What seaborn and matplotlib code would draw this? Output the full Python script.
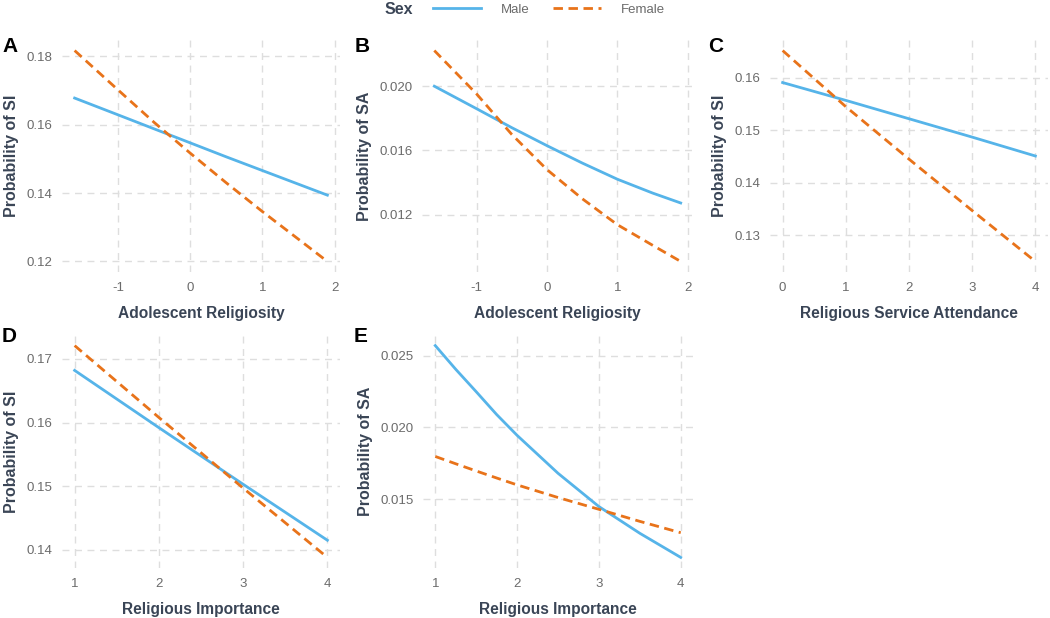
import numpy as np
import pandas as pd
import matplotlib
matplotlib.use("Agg")
import matplotlib.pyplot as plt
from matplotlib.lines import Line2D
import seaborn as sns

# values (predicted probabilities)
rel_x = [-1.6, -1.0, -0.5, 0.0, 0.5, 1.0, 1.5, 1.9]
si_rel_male = [0.1678, 0.1629, 0.1588, 0.1547, 0.1506, 0.1466, 0.1426, 0.1394]
si_rel_female = [0.1817, 0.1702, 0.1607, 0.1517, 0.1430, 0.1346, 0.1265, 0.1200]
sa_rel_male = [0.0200, 0.01860, 0.01742, 0.01630, 0.01522, 0.01421, 0.01335, 0.01273]
sa_rel_female = [0.02222, 0.01952, 0.01700, 0.01481, 0.01300, 0.01138, 0.01010, 0.00909]

att_x = [0, 1, 2, 3, 4]
si_att_male = [0.1591, 0.1557, 0.1522, 0.1487, 0.1451]
si_att_female = [0.1652, 0.1545, 0.1445, 0.1347, 0.1250]

imp_x = [1, 2, 3, 4]
si_imp_male = [0.1682, 0.1592, 0.1503, 0.1415]
si_imp_female = [0.1721, 0.1608, 0.1497, 0.1388]
imp_x_fine = [1.0, 1.25, 1.5, 1.75, 2.0, 2.5, 3.0, 3.5, 4.0]
sa_imp_male = [0.0257, 0.02405, 0.02249, 0.02090, 0.01945, 0.01681, 0.01449, 0.01263, 0.01095]
sa_imp_female = [0.01798, 0.01747, 0.01697, 0.01648, 0.01600, 0.01512, 0.01430, 0.01346, 0.01267]

blue = "#56B4E9"
orange = "#E8731A"
palette = {"Male": blue, "Female": orange}
dashes = {"Male": "", "Female": (3.4, 2.0)}
label_col = "#3a4556"
tick_col = "#6b6b6b"

plt.rcParams['font.family'] = ['Liberation Sans', 'DejaVu Sans']

fig = plt.figure(figsize=(10.5, 6.18), dpi=100)
W, H = 1050, 618


def add_ax(x0, x1, y0, y1):
    return fig.add_axes([x0 / W, (H - y1) / H, (x1 - x0) / W, (y1 - y0) / H])


def panel(ax, x, male, female, xlab, ylab, yticks, yfmt, xticks, letter, lx, ly):
    df = pd.DataFrame({
        "x": list(x) * 2,
        "y": list(male) + list(female),
        "Sex": ["Male"] * len(x) + ["Female"] * len(x),
    })
    sns.lineplot(data=df, x="x", y="y", hue="Sex", style="Sex", palette=palette,
                 dashes=dashes, linewidth=2.0, legend=False, ax=ax)
    ax.set_xticks(xticks)
    ax.set_xticklabels([str(t) for t in xticks])
    ax.set_yticks(yticks)
    ax.set_yticklabels([yfmt.format(t) for t in yticks])
    ax.margins(x=0.05, y=0.05)
    ax.grid(True, color="#dedede", linestyle=(0, (5, 4)), linewidth=1.0)
    ax.set_axisbelow(True)
    for s in ax.spines.values():
        s.set_visible(False)
    ax.tick_params(length=0, colors=tick_col, labelsize=9.5, pad=7)
    ax.set_xlabel(xlab, fontsize=11.2, fontweight="bold", color=label_col, labelpad=9)
    ax.set_ylabel(ylab, fontsize=11.5, fontweight="bold", color=label_col, labelpad=5)
    fig.text(lx / W, 1 - ly / H, letter, fontsize=15, fontweight="bold", color="black",
             ha="left", va="center")


axA = add_ax(62, 340, 40, 272)
panel(axA, rel_x, si_rel_male, si_rel_female, "Adolescent Religiosity", "Probability of SI",
      [0.12, 0.14, 0.16, 0.18], "{:.2f}", [-1, 0, 1, 2], "A", 2, 46)

axB = add_ax(422, 693, 40, 272)
panel(axB, rel_x, sa_rel_male, sa_rel_female, "Adolescent Religiosity", "Probability of SA",
      [0.012, 0.016, 0.020], "{:.3f}", [-1, 0, 1, 2], "B", 355, 46)

axC = add_ax(770, 1048, 40, 272)
panel(axC, att_x, si_att_male, si_att_female, "Religious Service Attendance", "Probability of SI",
      [0.13, 0.14, 0.15, 0.16], "{:.2f}", [0, 1, 2, 3, 4], "C", 708, 46)

axD = add_ax(62, 340, 335, 568)
panel(axD, imp_x, si_imp_male, si_imp_female, "Religious Importance", "Probability of SI",
      [0.14, 0.15, 0.16, 0.17], "{:.2f}", [1, 2, 3, 4], "D", 2, 336)

axE = add_ax(423, 693, 335, 568)
panel(axE, imp_x_fine, sa_imp_male, sa_imp_female, "Religious Importance", "Probability of SA",
      [0.015, 0.020, 0.025], "{:.3f}", [1, 2, 3, 4], "E", 354, 336)

# legend on top
fig.text(399 / W, 1 - 10 / H, "Sex", fontsize=11.5, fontweight="bold", color=label_col,
         ha="center", va="center")
handles = [Line2D([], [], color=blue, lw=2.0),
           Line2D([], [], color=orange, lw=2.0, dashes=(3.4, 2.0))]
leg = fig.legend(handles, ["Male", "Female"], loc="center", ncol=2,
                 bbox_to_anchor=(549 / W, 1 - 10 / H), frameon=False, fontsize=9.5,
                 handlelength=3.6, handletextpad=1.5, columnspacing=1.8)
for t in leg.get_texts():
    t.set_color(tick_col)

fig.savefig("out.png", dpi=100)
